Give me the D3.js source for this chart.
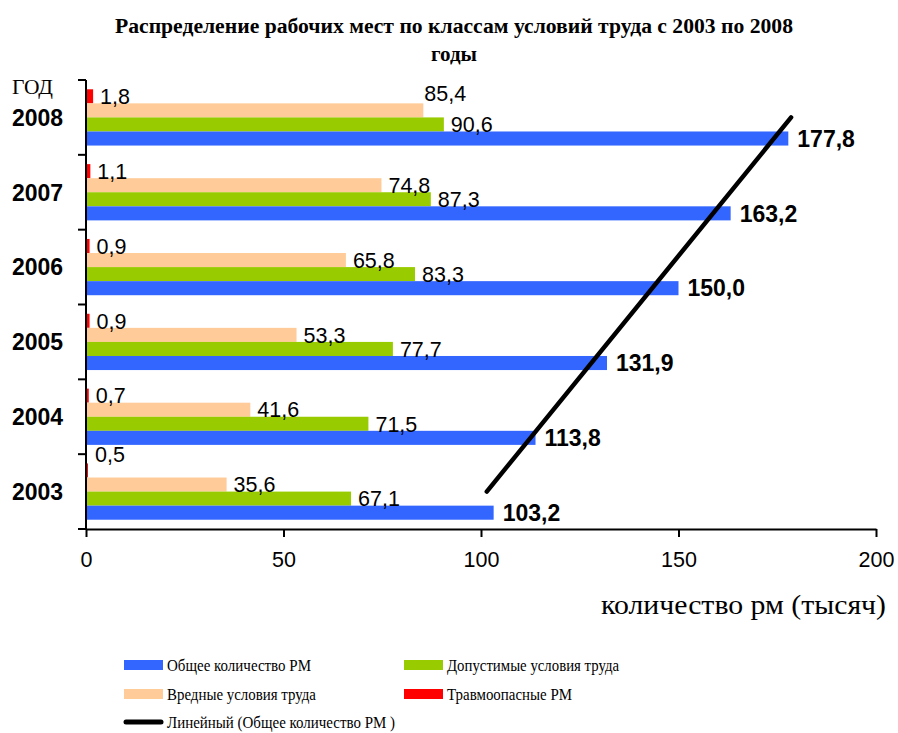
<!DOCTYPE html>
<html>
<head>
<meta charset="utf-8">
<script src="https://cdn.jsdelivr.net/npm/d3@7"></script>
<style>
  body { margin: 0; background: #fff; }
  svg { display: block; }
</style>
</head>
<body>
<svg id="chart" width="898" height="733"></svg>
<script>
// ---- data ----
const years = ["2003", "2004", "2005", "2006", "2007", "2008"];
const totalRM = [103.2, 113.8, 131.9, 150.0, 163.2, 177.8];        // Общее количество РМ
const allowedCond = [67.1, 71.5, 77.7, 83.3, 87.3, 90.6];          // Допустимые условия труда
const harmfulCond = [35.6, 41.6, 53.3, 65.8, 74.8, 85.4];          // Вредные условия труда
const injuryRM = [0.5, 0.7, 0.9, 0.9, 1.1, 1.8];                   // Травмоопасные РМ
const xTicks = [0, 50, 100, 150, 200];

const seriesNames = ["Общее количество РМ", "Допустимые условия труда", "Вредные условия труда", "Травмоопасные РМ"];
const seriesColors = ["#3366FF", "#99CC00", "#FFCC99", "#FF0000"];
const seriesValues = [totalRM, allowedCond, harmfulCond, injuryRM];

const svg = d3.select("#chart");
const plotLeft = 86, plotRight = 876, plotTop = 80, plotBottom = 529;
const serif = "Liberation Serif, Times New Roman, serif";
const sans = "Liberation Sans, Arial, sans-serif";

const x = d3.scaleLinear().domain([0, 200]).range([plotLeft, plotRight]);
// years from bottom (2003) to top (2008)
const y = d3.scaleBand().domain(years.slice().reverse()).range([plotTop, plotBottom]).paddingInner(0).paddingOuter(0);
// within band: from top red, peach, green, blue
const drawOrder = [3, 2, 1, 0];
const inner = d3.scaleBand().domain(drawOrder).range([0, y.bandwidth()]).paddingInner(0).paddingOuter(0.66);

// title
svg.append("text").attr("x", 454).attr("y", 33).attr("text-anchor", "middle")
  .attr("font-family", serif).attr("font-weight", "bold").attr("font-size", 20)
  .attr("textLength", 678).attr("lengthAdjust", "spacingAndGlyphs")
  .text("Распределение рабочих мест по классам условий труда с 2003 по 2008");
svg.append("text").attr("x", 454).attr("y", 61).attr("text-anchor", "middle")
  .attr("font-family", serif).attr("font-weight", "bold").attr("font-size", 20)
  .attr("textLength", 46).attr("lengthAdjust", "spacingAndGlyphs")
  .text("годы");

// bars
const g = svg.append("g");
years.forEach((yr, i) => {
  drawOrder.forEach(s => {
    const v = seriesValues[s][i];
    g.append("rect")
      .attr("x", x(0))
      .attr("y", y(yr) + inner(s))
      .attr("width", x(v) - x(0))
      .attr("height", inner.bandwidth())
      .attr("fill", seriesColors[s]);
  });
});

// trend line (linear regression of total)
const n = totalRM.length;
const mx = d3.mean(d3.range(n)), my = d3.mean(totalRM);
const slope = d3.sum(d3.range(n), k => (k - mx) * (totalRM[k] - my)) / d3.sum(d3.range(n), k => (k - mx) ** 2);
const icpt = my - slope * mx;
svg.append("line")
  .attr("x1", x(icpt)).attr("y1", y(years[0]) + y.bandwidth() / 2)
  .attr("x2", x(icpt + slope * (n - 1))).attr("y2", y(years[n - 1]) + y.bandwidth() / 2)
  .attr("stroke", "#000").attr("stroke-width", 4.5).attr("stroke-linecap", "round");

// value labels
const labelOffsets = { "3-0": [0, -16], "2-5": [-6, -17] };
years.forEach((yr, i) => {
  drawOrder.forEach(s => {
    const v = seriesValues[s][i];
    const off = labelOffsets[s + "-" + i] || [0, 0];
    const bold = s === 0;
    svg.append("text")
      .attr("x", x(v) + (bold ? 9 : 7) + off[0])
      .attr("y", y(yr) + inner(s) + inner.bandwidth() / 2 + off[1])
      .attr("dy", "0.36em")
      .attr("font-family", sans)
      .attr("font-size", bold ? 23 : 21.5)
      .attr("font-weight", bold ? "bold" : "normal")
      .attr("fill", "#000")
      .text(v.toFixed(1).replace(".", ","));
  });
});

// axes
const xAxis = svg.append("g").attr("transform", `translate(0,${plotBottom})`)
  .call(d3.axisBottom(x).tickValues(xTicks).tickSize(8).tickSizeOuter(0).tickPadding(15));
xAxis.select(".domain").attr("stroke", "#000").attr("stroke-width", 2);
xAxis.selectAll(".tick line").attr("stroke", "#000").attr("stroke-width", 2);
xAxis.selectAll(".tick text").attr("font-family", sans).attr("font-size", 21.5).attr("fill", "#000");

// y axis line with ticks at category boundaries
svg.append("line").attr("x1", plotLeft).attr("x2", plotLeft).attr("y1", plotTop).attr("y2", plotBottom + 1)
  .attr("stroke", "#000").attr("stroke-width", 2);
const boundaries = years.map(yr => y(yr)).concat([plotBottom]);
svg.selectAll(".ytick").data(boundaries).enter().append("line")
  .attr("x1", plotLeft - 8).attr("x2", plotLeft).attr("y1", d => d).attr("y2", d => d)
  .attr("stroke", "#000").attr("stroke-width", 2);

// year labels
years.forEach(yr => {
  svg.append("text").attr("x", 12).attr("y", y(yr) + y.bandwidth() / 2).attr("dy", "0.36em")
    .attr("font-family", sans).attr("font-weight", "bold").attr("font-size", 23)
    .text(yr);
});
svg.append("text").attr("x", 12).attr("y", 94)
  .attr("font-family", serif).attr("font-size", 20)
  .attr("textLength", 41).attr("lengthAdjust", "spacingAndGlyphs")
  .text("ГОД");

// x axis title
svg.append("text").attr("x", 886).attr("y", 614).attr("text-anchor", "end")
  .attr("font-family", serif).attr("font-size", 28)
  .attr("textLength", 285).attr("lengthAdjust", "spacingAndGlyphs")
  .text("количество рм (тысяч)");

// legend
const legendItems = [
  { name: seriesNames[0], color: seriesColors[0], type: "rect", lx: 124, ly: 665, w: 144 },
  { name: seriesNames[1], color: seriesColors[1], type: "rect", lx: 404, ly: 665, w: 172 },
  { name: seriesNames[2], color: seriesColors[2], type: "rect", lx: 124, ly: 694, w: 149 },
  { name: seriesNames[3], color: seriesColors[3], type: "rect", lx: 404, ly: 694, w: 125 },
  { name: "Линейный (Общее количество РМ )", color: "#000", type: "line", lx: 124, ly: 722, w: 228 }
];
legendItems.forEach(it => {
  if (it.type === "rect") {
    svg.append("rect").attr("x", it.lx).attr("y", it.ly - 5).attr("width", 39).attr("height", 10).attr("fill", it.color);
  } else {
    svg.append("line").attr("x1", it.lx + 2).attr("x2", it.lx + 37).attr("y1", it.ly).attr("y2", it.ly)
      .attr("stroke", it.color).attr("stroke-width", 5).attr("stroke-linecap", "round");
  }
  svg.append("text").attr("x", it.lx + 43).attr("y", it.ly).attr("dy", "0.35em")
    .attr("font-family", serif).attr("font-size", 17.5)
    .attr("textLength", it.w).attr("lengthAdjust", "spacingAndGlyphs")
    .text(it.name);
});
</script>
</body>
</html>
